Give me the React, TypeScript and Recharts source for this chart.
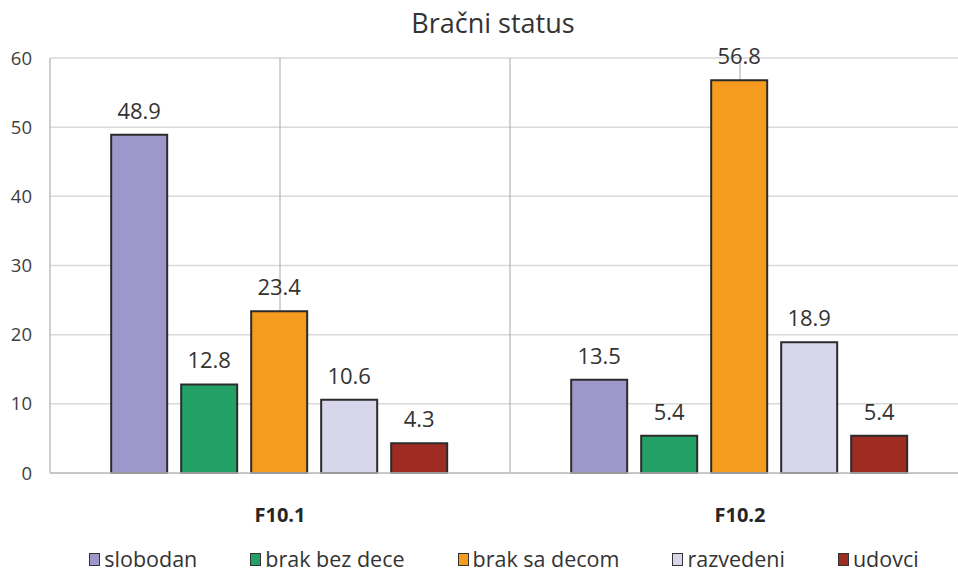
import React from 'react';
import { BarChart, Bar, XAxis, YAxis, CartesianGrid, Legend, LabelList } from 'recharts';

const categories = ['F10.1', 'F10.2'];
const seriesNames = ['slobodan', 'brak bez dece', 'brak sa decom', 'razvedeni', 'udovci'];
const slobodan = [48.9, 13.5];
const brakBezDece = [12.8, 5.4];
const brakSaDecom = [23.4, 56.8];
const razvedeni = [10.6, 18.9];
const udovci = [4.3, 5.4];
const yTicks = [0, 10, 20, 30, 40, 50, 60];
const colors = ['#9d98cb', '#23a065', '#f59b1e', '#d7d6ea', '#9e2c23'];
const keys = ['s0', 's1', 's2', 's3', 's4'];
const seriesValues = [slobodan, brakBezDece, brakSaDecom, razvedeni, udovci];

const data = categories.map((c, i) => {
  const row: any = { name: c };
  keys.forEach((k, j) => { row[k] = seriesValues[j][i]; });
  return row;
});

const FONT = '"Open Sans", sans-serif';

const XTick = (props: any) => {
  const { x, y, payload } = props;
  return (
    <text x={x} y={y + 41} textAnchor="middle" fontFamily={FONT} fontSize={20} fontWeight={700} fill="#262626">
      {payload.value}
    </text>
  );
};

const LegendContent = () => (
  <div style={{ height: 30, paddingTop: 16 }}>
    <div style={{ display: 'flex', justifyContent: 'center', paddingLeft: 50, fontFamily: FONT, fontSize: 21.5, lineHeight: '22px', color: '#333', height: 30, alignItems: 'center' }}>
      {seriesNames.map((n, i) => (
        <div key={n} style={{ display: 'flex', alignItems: 'center', marginRight: i < seriesNames.length - 1 ? 53 : 0 }}>
          <span style={{ display: 'inline-block', width: 9, height: 11, background: colors[i], border: '1.5px solid #333', marginRight: 4 }} />
          <span>{n}</span>
        </div>
      ))}
    </div>
  </div>
);

export default function App() {
  return (
    <div style={{ position: 'absolute', left: 0, top: 0, width: 958, height: 574, background: '#fff', overflow: 'hidden' }}>
      <div style={{ position: 'absolute', top: 4, left: 393, width: 200, textAlign: 'center', fontFamily: FONT, fontSize: 27, color: '#333', whiteSpace: 'nowrap' }}>
        Bračni status
      </div>
      <BarChart
        width={958}
        height={574}
        data={data}
        margin={{ top: 58, right: -12, bottom: 0, left: 8 }}
        barCategoryGap="13.3%"
        barGap={14}
      >
        <CartesianGrid vertical={false} stroke="#d9d9d9" strokeWidth={1.5} />
        <CartesianGrid
          horizontal={false}
          stroke="#a6a6a6"
          strokeWidth={1}
          verticalCoordinatesGenerator={({ offset }: any) => [1, 2, 3].map((k) => offset.left + (k * offset.width) / 4)}
        />
        <XAxis dataKey="name" tick={<XTick />} tickLine={false} axisLine={{ stroke: '#bfbfbf', strokeWidth: 1.5 }} height={55} interval={0} />
        <YAxis
          domain={[0, 60]}
          ticks={yTicks}
          width={42}
          tickLine={false}
          axisLine={{ stroke: '#bfbfbf', strokeWidth: 1.5 }}
          tick={{ fontFamily: FONT, fontSize: 18.5, fill: '#404040' }}
          tickMargin={12}
        />
        <Legend verticalAlign="bottom" content={<LegendContent />} wrapperStyle={{ left: 0, width: 958 }} />
        {keys.map((k, i) => (
          <Bar key={k} dataKey={k} name={seriesNames[i]} fill={colors[i]} stroke="#2b2b2b" strokeWidth={2} isAnimationActive={false}>
            <LabelList dataKey={k} position="top" offset={16} fontFamily={FONT} fontSize={22} fill="#333" formatter={(v: any) => Number(v).toFixed(1)} />
          </Bar>
        ))}
      </BarChart>
    </div>
  );
}
